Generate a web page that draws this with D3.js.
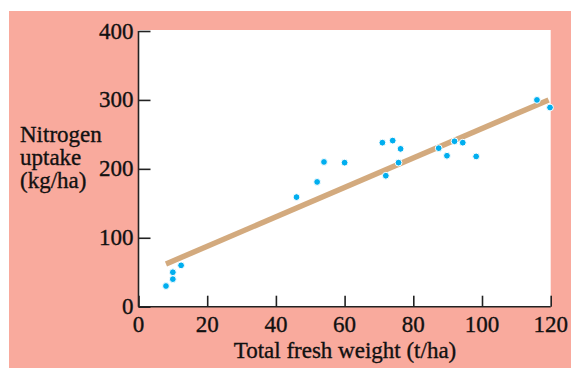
<!DOCTYPE html>
<html>
<head>
<meta charset="utf-8">
<script src="https://cdn.jsdelivr.net/npm/d3@7"></script>
<style>
  html, body { margin: 0; padding: 0; background: #ffffff; }
  svg { display: block; }
  text { font-family: "Liberation Serif", "Times New Roman", serif; fill: #111; stroke: #111; stroke-width: 0.35px; }
</style>
</head>
<body>
<svg id="chart" width="571" height="368"></svg>
<script>
// Fresh weight (t/ha) and nitrogen uptake (kg/ha) per sample
const freshWeight = [8, 10, 10, 12.4, 46, 52, 54, 60, 71, 72, 74, 76.3, 75.7, 87.4, 89.8, 92, 94.4, 98.3, 116, 119.8];
const nitrogenUptake = [30, 40, 50, 60, 159, 181, 210, 209, 238, 190, 241, 229, 209, 230, 219, 240, 238, 218, 300, 289];

// Fitted regression line end points
const fitX = [8, 119.4];
const fitY = [62, 300];

const xTicks = [0, 20, 40, 60, 80, 100, 120];
const yTicks = [0, 100, 200, 300, 400];
const yTitleLines = ["Nitrogen", "uptake", "(kg/ha)"];
const xTitle = "Total fresh weight (t/ha)";

const svg = d3.select("#chart");
const W = 571, H = 368;

// Salmon panel
svg.append("rect")
  .attr("x", 9).attr("y", 11)
  .attr("width", W - 9).attr("height", H - 11)
  .attr("fill", "#f9aa9d");

const x = d3.scaleLinear().domain([0, 120]).range([138.5, 550.7]);
const y = d3.scaleLinear().domain([0, 400]).range([306.7, 31]);

// Plot background
svg.append("rect")
  .attr("x", x(0)).attr("y", y(400) - 1)
  .attr("width", x(120) - x(0)).attr("height", y(0) - y(400) + 1)
  .attr("fill", "#ffffff");

// Regression line
const fit = fitX.map((d, i) => [d, fitY[i]]);
svg.append("path")
  .datum(fit)
  .attr("d", d3.line().x(d => x(d[0])).y(d => y(d[1])))
  .attr("stroke", "#d3aa7e")
  .attr("stroke-width", 5.5)
  .attr("fill", "none");

// Sample points
svg.append("g")
  .selectAll("circle")
  .data(freshWeight.map((d, i) => [d, nitrogenUptake[i]]))
  .join("circle")
  .attr("cx", d => x(d[0]))
  .attr("cy", d => y(d[1]))
  .attr("r", 3.4)
  .attr("fill", "#00aeef")
  .attr("stroke", "#ffffff")
  .attr("stroke-width", 1);

// Axes with inward ticks
const xAxis = d3.axisTop(x).tickValues(xTicks).tickSize(11).tickFormat("");
const yAxis = d3.axisRight(y).tickValues(yTicks).tickSize(12).tickFormat("");

const gx = svg.append("g").attr("transform", `translate(0,${y(0)})`).call(xAxis);
const gy = svg.append("g").attr("transform", `translate(${x(0)},0)`).call(yAxis);
[gx, gy].forEach(g => {
  g.select(".domain").attr("stroke", "#222").attr("stroke-width", 1.6);
  g.selectAll(".tick line").attr("stroke", "#222").attr("stroke-width", 1.6);
});
gx.select(".domain").attr("d", `M${x(0)},0H${x(120)}`);
gy.select(".domain").attr("d", `M0,${y(400)}V${y(0)}`);

// Tick labels
svg.append("g")
  .selectAll("text")
  .data(xTicks)
  .join("text")
  .attr("x", d => x(d))
  .attr("y", 332)
  .attr("text-anchor", "middle")
  .attr("font-size", 23)
  .text(d => d);

svg.append("g")
  .selectAll("text")
  .data(yTicks)
  .join("text")
  .attr("x", x(0) - 5)
  .attr("y", d => y(d) + 7.5)
  .attr("text-anchor", "end")
  .attr("font-size", 23)
  .text(d => d);

// Axis titles
svg.append("text")
  .attr("x", 345)
  .attr("y", 358)
  .attr("text-anchor", "middle")
  .attr("font-size", 23)
  .text(xTitle);

svg.append("g")
  .selectAll("text")
  .data(yTitleLines)
  .join("text")
  .attr("x", 20)
  .attr("y", (d, i) => 142 + i * 23)
  .attr("font-size", 23)
  .text(d => d);
</script>
</body>
</html>
